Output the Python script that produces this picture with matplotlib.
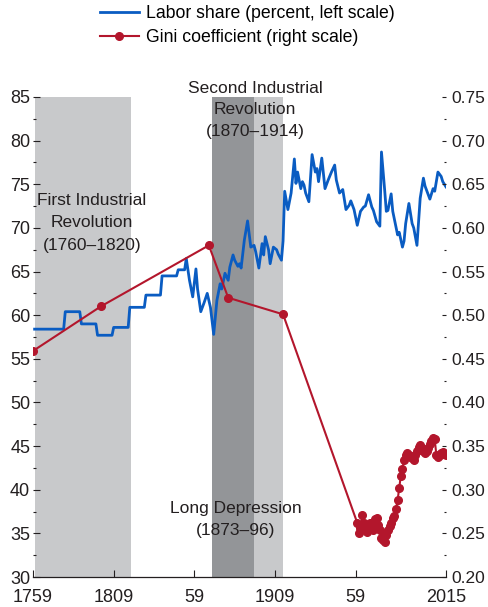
import matplotlib
matplotlib.use("Agg")
import matplotlib.pyplot as plt
from matplotlib.ticker import MultipleLocator, FormatStrFormatter

plt.rcParams['font.family'] = ['Liberation Sans', 'DejaVu Sans']

# labor share, percent (decade steps first, then yearly)
labor_years = [1760, 1778, 1779, 1788, 1789, 1798, 1799, 1808, 1809, 1818,
               1819, 1828, 1829, 1838, 1839, 1848, 1849, 1853,
               1854, 1856, 1858, 1860, 1861, 1863, 1865, 1867, 1869, 1871,
               1873, 1875, 1876, 1878, 1880, 1881, 1883, 1884, 1886, 1887,
               1888, 1890, 1892, 1894, 1896, 1897, 1899, 1901, 1902, 1903,
               1905, 1906, 1908, 1910, 1911, 1913, 1914, 1915, 1917, 1919,
               1921, 1922, 1923, 1925, 1926, 1927, 1928, 1930, 1932, 1934,
               1935, 1936, 1938, 1940, 1942, 1944, 1946, 1947, 1949, 1951,
               1953, 1955, 1956, 1958, 1960, 1962, 1964, 1965, 1967, 1969,
               1970, 1972, 1974, 1975, 1977, 1978, 1979, 1981, 1982, 1984,
               1985, 1986, 1988, 1989, 1990, 1992, 1994, 1995, 1997, 1999,
               2001, 2002, 2003, 2005, 2007, 2008, 2010, 2012, 2013, 2015]
labor_share = [58.4, 58.4, 60.4, 60.4, 59.0, 59.0, 57.7, 57.7, 58.6, 58.6,
               60.9, 60.9, 62.3, 62.3, 64.5, 64.5, 65.2, 65.2,
               66.5, 64.0, 62.1, 65.3, 63.0, 60.4, 61.4, 62.5, 60.9, 57.8,
               61.7, 63.6, 63.0, 64.8, 64.0, 65.5, 66.9, 66.3, 65.6, 65.9,
               65.4, 68.6, 70.8, 67.8, 68.0, 67.3, 65.4, 68.2, 66.9, 69.0,
               67.5, 65.9, 67.8, 67.5, 67.0, 66.3, 68.5, 74.2, 72.1, 74.0,
               77.9, 75.1, 76.4, 74.5, 75.3, 74.9, 74.0, 73.0, 78.4, 76.4,
               76.8, 75.3, 78.0, 74.5, 75.5, 76.4, 77.2, 75.5, 74.0, 74.4,
               72.1, 72.6, 73.1, 72.1, 70.3, 71.9, 72.4, 72.5, 73.8, 72.4,
               72.0, 70.7, 70.2, 78.7, 74.3, 71.9, 72.0, 73.9, 71.9, 70.1,
               69.2, 69.5, 67.8, 68.5, 70.5, 72.8, 70.5, 70.0, 68.0, 73.4,
               75.7, 74.8, 74.3, 73.3, 74.5, 74.2, 76.4, 75.9, 75.3, 74.7]

# gini coefficient
gini_years = [1759, 1801, 1868, 1880, 1914] + list(range(1960, 2016))
gini_values = [0.459, 0.510, 0.580, 0.520, 0.501,
               0.262, 0.250, 0.256, 0.271, 0.262, 0.258, 0.252, 0.255, 0.262, 0.256,
               0.254, 0.266, 0.268, 0.260, 0.254, 0.245, 0.242, 0.240, 0.248, 0.254,
               0.258, 0.262, 0.268, 0.270, 0.278, 0.288, 0.302, 0.316, 0.324, 0.334,
               0.340, 0.342, 0.340, 0.338, 0.336, 0.334, 0.340, 0.344, 0.349, 0.351,
               0.348, 0.344, 0.342, 0.344, 0.348, 0.352, 0.356, 0.359, 0.358, 0.340,
               0.338, 0.340, 0.342, 0.343, 0.341, 0.340]

x_ticks = [1759, 1809, 1859, 1909, 1959, 2015]
x_tick_labels = ['1759', '1809', '59', '1909', '59', '2015']

first_ir = (1760, 1820)
second_ir = (1870, 1914)
long_depression = (1870, 1896)

blue = '#0a5cc2'
red = '#b3162c'
light = '#c8c9cb'
dark = '#939598'
txt = '#231f20'

fig = plt.figure(figsize=(4.88, 6.07), dpi=100)
ax = fig.add_axes([33/488, 30/607, 413/488, 480/607])
ax2 = ax.twinx()

ax.axvspan(*first_ir, color=light, lw=0, zorder=0)
ax.axvspan(*second_ir, color=light, lw=0, zorder=0)
ax.axvspan(*long_depression, color=dark, lw=0, zorder=0)

l1, = ax.plot(labor_years, labor_share, color=blue, lw=2.0,
              label='Labor share (percent, left scale)')
l2, = ax2.plot(gini_years, gini_values, color=red, lw=1.5, marker='o', ms=5.5,
               label='Gini coefficient (right scale)')

ax.set_xlim(1759, 2015)
ax.set_ylim(30, 85)
ax2.set_ylim(0.20, 0.75)

ax.set_xticks(x_ticks)
ax.set_xticklabels(x_tick_labels)
ax.yaxis.set_major_locator(MultipleLocator(5))
ax.yaxis.set_minor_locator(MultipleLocator(2.5))
ax2.yaxis.set_major_locator(MultipleLocator(0.05))
ax2.yaxis.set_minor_locator(MultipleLocator(0.025))
ax2.yaxis.set_major_formatter(FormatStrFormatter('%.2f'))

for a in (ax, ax2):
    for s in ('top', 'left', 'right'):
        a.spines[s].set_visible(False)
ax2.spines['bottom'].set_visible(False)
ax.spines['bottom'].set_color(txt)
ax.spines['bottom'].set_linewidth(0.9)

ax.tick_params(axis='x', direction='in', length=5, width=0.8, colors=txt,
               labelsize=13, pad=9)
ax.tick_params(axis='y', which='major', direction='in', length=5, width=0.8,
               colors=txt, labelsize=13, pad=2)
ax.tick_params(axis='y', which='minor', direction='in', length=2, width=0.8,
               colors=txt)
ax2.tick_params(axis='y', which='major', direction='in', length=3, width=0.8,
                colors=txt, labelsize=12.5, pad=4)
ax2.tick_params(axis='y', which='minor', direction='in', length=1.5, width=0.8,
                colors=txt)

ax.text(0.5375, 0.973, 'Second Industrial\nRevolution\n(1870\u20131914)',
        transform=ax.transAxes, ha='center', va='center', fontsize=12.5,
        color=txt, linespacing=1.55)
ax.text(0.143, 0.7375, 'First Industrial\nRevolution\n(1760\u20131820)',
        transform=ax.transAxes, ha='center', va='center', fontsize=12.5,
        color=txt, linespacing=1.6)
ax.text(0.4915, 0.12, 'Long Depression\n(1873\u201396)',
        transform=ax.transAxes, ha='center', va='center', fontsize=12.5,
        color=txt, linespacing=1.6)

fig.legend(handles=[l1, l2], loc='upper left', bbox_to_anchor=(98/488, 0.995),
           frameon=False, fontsize=12.7, handlelength=2.2, handletextpad=0.4,
           labelspacing=0.4, borderpad=0.1, borderaxespad=0)

fig.savefig('out.png', dpi=100)
